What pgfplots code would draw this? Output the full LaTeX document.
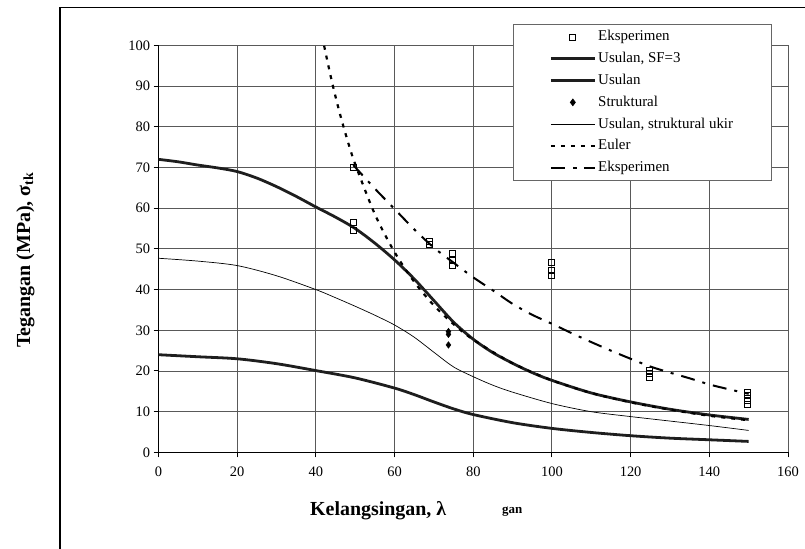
\documentclass[border=0pt]{standalone}
\usepackage{fontspec}
\setmainfont{Liberation Serif}
\usepackage{pgfplots}
\pgfplotsset{compat=1.18}
\definecolor{curve}{RGB}{30,30,30}
\begin{document}
\begin{tikzpicture}
\path[use as bounding box] (0bp,0bp) rectangle (805bp,549bp);
\draw[line width=1.3bp] (60bp,0bp) -- (60bp,541.7bp) -- (805bp,541.7bp);
\begin{axis}[
  at={(158.5bp,96.6bp)}, anchor=south west,
  width=629.5bp, height=407bp, scale only axis,
  xmin=0, xmax=160, ymin=0, ymax=100,
  xtick={0,20,...,160}, ytick={0,10,...,100},
  axis lines=left, axis line style={-, line width=1.2bp, black},
  grid=major, grid style={line width=0.9bp, black!65},
  tick align=outside, major tick length=5bp, tick style={line width=1bp, black},
  /pgf/number format/assume math mode=true,
  tick label style={font=\fontsize{14.5}{14.5}\selectfont},
  xticklabel style={yshift=-6bp},
  legend cell align=left,
  legend image code/.code={\draw[mark repeat=2,mark phase=2,#1] plot coordinates {(0bp,0bp) (22bp,0bp) (44bp,0bp)};},
  legend style={at={(0.5632,1.0526)}, anchor=north west, draw=black!60, line width=0.8bp, fill=white,
    font=\fontsize{15}{15}\selectfont, inner xsep=36bp, inner ysep=3.6bp, row sep=3.8bp,
    nodes={inner sep=2bp, text height=11bp, text depth=3bp}},
]
% Eksperimen data
\addplot[only marks, mark=square, mark size=3bp, mark options={line width=0.7bp, black, fill=white}] coordinates {
(49.5,70.0) (49.5,56.4) (49.5,54.6) (68.9,51.8) (68.9,51.0) (74.7,49.0) (74.7,47.3) (74.7,46.0)
(99.8,46.6) (99.8,44.8) (99.8,43.4) (124.7,20.2) (124.7,19.4) (124.7,18.4)
(149.7,14.7) (149.7,13.9) (149.7,12.9) (149.7,11.8)};
\addlegendentry{Eksperimen}
% Usulan SF=3
\addplot[curve, line width=2.8bp, smooth, no marks] coordinates {
(0,24.0) (10,23.5) (20,23.0) (30,21.8) (40,20.1) (50,18.3) (60,15.8) (65,14.2) (70,12.4) (75,10.7)
(80,9.3) (90,7.3) (100,5.9) (110,4.9) (120,4.1) (130,3.5) (140,3.1) (150,2.7)};
\addlegendentry{Usulan, SF=3}
% Usulan
\addplot[curve, line width=2.8bp, smooth, no marks] coordinates {
(0,72.0) (5,71.4) (10,70.6) (15,69.9) (20,69.0) (25,67.4) (30,65.3) (35,62.9) (40,60.3) (45,57.8)
(50,55.0) (55,51.4) (60,47.3) (65,42.6) (70,37.3) (75,32.0) (80,27.8) (85,24.5) (90,21.9) (95,19.6)
(100,17.7) (110,14.6) (120,12.4) (130,10.6) (140,9.2) (150,8.1)};
\addlegendentry{Usulan}
% Struktural
\addplot[only marks, mark=diamond*, mark size=3.3bp, mark options={black, fill=black}] coordinates {
(73.7,29.7) (73.7,29.0) (73.7,26.4)};
\addlegendentry{Struktural}
% Usulan, struktural ukir
\addplot[black, line width=0.7bp, smooth, no marks] coordinates {
(0,47.7) (10,47.0) (20,45.9) (30,43.4) (40,40.0) (45,38.0) (50,35.9) (55,33.7) (60,31.3) (65,28.3)
(70,24.6) (75,21.0) (80,18.6) (85,16.5) (90,14.8) (100,12.0) (110,10.0) (120,8.8) (130,7.7) (140,6.6) (150,5.4)};
\addlegendentry{Usulan, struktural ukir}
% Euler
\addplot[black, line width=2.2bp, dash pattern=on 4bp off 6bp, smooth, no marks] coordinates {
(42.1,99.9) (44,91.4) (46,83.6) (48,76.8) (50,70.8) (55,58.5) (60,49.2) (65,41.9) (70,36.1) (75,31.5)
(80,27.7) (90,21.9) (100,17.7) (110,14.6) (120,12.3) (130,10.5) (140,9.0) (150,7.9)};
\addlegendentry{Euler}
% Eksperimen fit
\addplot[black, line width=2bp, dash pattern=on 14bp off 8bp on 3bp off 8bp, smooth, no marks] coordinates {
(49.5,70.6) (55,64.8) (60,59.8) (65,54.8) (70,50.3) (75,46.6) (80,43.0) (85,39.8) (90,36.5) (95,33.8)
(100,31.6) (105,29.3) (110,27.1) (115,25.0) (120,23.0) (125,21.1) (130,19.6) (135,18.2) (140,16.7) (145,15.5) (150,14.4)};
\addlegendentry{Eksperimen}
\end{axis}
\node[rotate=90, anchor=base, inner sep=0pt, font=\bfseries\fontsize{20}{20}\selectfont] at (30bp,289bp) {Tegangan (MPa), σ\textsubscript{tk}};
\node[anchor=base west, inner sep=0pt, font=\bfseries\fontsize{20}{20}\selectfont] at (310bp,33.3bp) {Kelangsingan, λ};
\node[anchor=base west, inner sep=0pt, font=\bfseries\fontsize{13}{13}\selectfont] at (502bp,36bp) {gan};
\end{tikzpicture}
\end{document}
